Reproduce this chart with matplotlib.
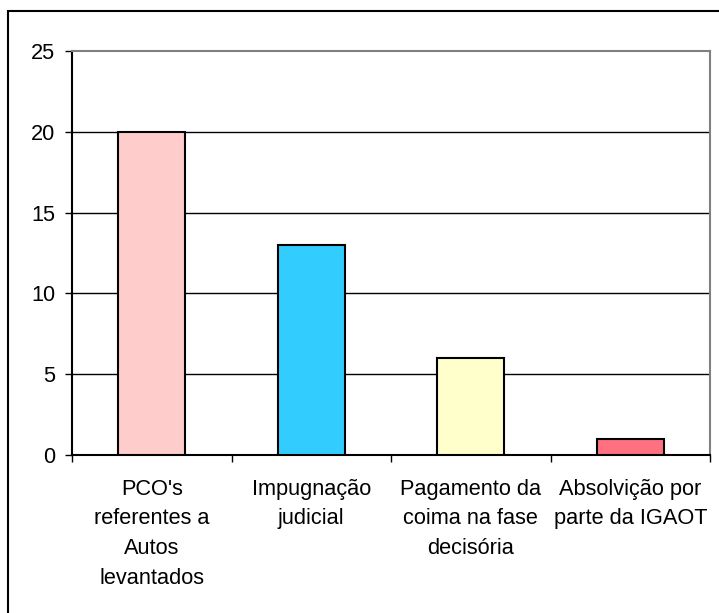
import matplotlib.pyplot as plt
from matplotlib.patches import Rectangle

# Category labels and counts
categorias = ["PCO's\nreferentes a\nAutos\nlevantados",
              "Impugnação\njudicial",
              "Pagamento da\ncoima na fase\ndecisória",
              "Absolvição por\nparte da IGAOT"]
valores = [20, 13, 6, 1]
cores = ['#FFCCCC', '#33CCFF', '#FFFFCC', '#FF7080']
yticks = [0, 5, 10, 15, 20, 25]

plt.rcParams['font.family'] = ['Liberation Sans', 'DejaVu Sans']

fig = plt.figure(figsize=(7.19, 6.13), dpi=100)
ax = fig.add_axes([72/719, 1 - 455/613, (710 - 72)/719, (455 - 51)/613])

x = list(range(len(valores)))
ax.bar(x, valores, width=0.42, color=cores, edgecolor='black', linewidth=1.5, zorder=3)

ax.set_xlim(-0.5, len(valores) - 0.5)
ax.set_ylim(0, 25)
ax.set_yticks(yticks)
ax.set_yticklabels([str(v) for v in yticks], fontsize=15.7)

# category labels between boundary ticks
ax.set_xticks([i - 0.5 for i in range(len(valores) + 1)])
ax.set_xticklabels([])
ax.set_xticks(x, minor=True)
ax.set_xticklabels(categorias, minor=True, fontsize=15.7, linespacing=1.55)
ax.tick_params(axis='x', which='minor', length=0, pad=17)
ax.tick_params(axis='x', which='major', length=5, width=1, direction='out')
ax.tick_params(axis='y', length=5, width=1, direction='out', pad=7)

# gridlines
for v in yticks[1:-1]:
    ax.axhline(v, color='black', linewidth=1, zorder=1)

ax.spines['left'].set_color('black')
ax.spines['bottom'].set_color('black')
ax.spines['top'].set_color('#808080')
ax.spines['right'].set_color('#808080')
for s in ax.spines.values():
    s.set_linewidth(1.5)

# outer chart border (cut off on right and bottom)
fig.patches.append(Rectangle((8/719, -0.05), 1.2, (613 - 11)/613 + 0.05,
                             transform=fig.transFigure, fill=False,
                             edgecolor='black', linewidth=1.5))

fig.savefig('out.png', dpi=100)
